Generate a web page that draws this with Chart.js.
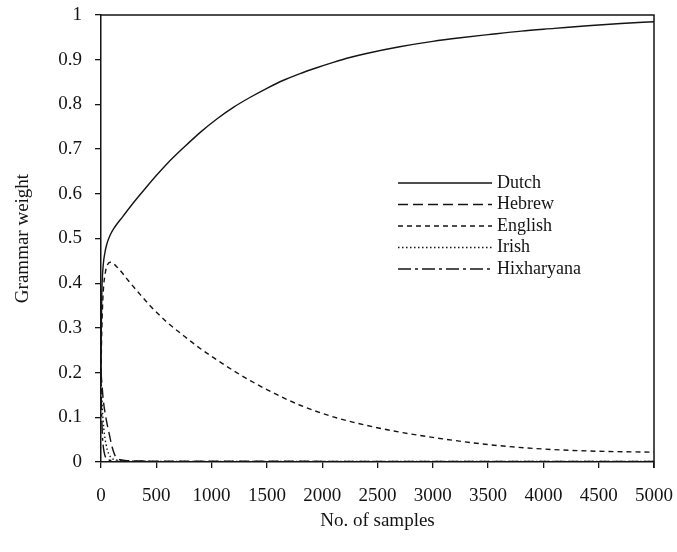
<!DOCTYPE html>
<html>
<head>
<meta charset="utf-8">
<script src="https://cdn.jsdelivr.net/npm/chart.js@4.4.1/dist/chart.umd.min.js"></script>
<style>
  html, body { margin: 0; padding: 0; background: #fff; }
  #wrap { width: 677px; height: 552px; }
</style>
</head>
<body>
<div id="wrap"><canvas id="c" width="677" height="552"></canvas></div>
<script>
// ---- data ----
const seriesNames = ["Dutch", "Hebrew", "English", "Irish", "Hixharyana"];

const dutchX = [0, 3, 6, 10, 21, 35, 51, 80, 112, 200, 293, 400, 500, 600, 750, 900, 1050, 1200, 1350, 1500, 1650, 1800, 1950, 2100, 2250, 2400, 2700, 3000, 3250, 3500, 3800, 4100, 4400, 4700, 5000];
const dutchY = [0.2, 0.3, 0.36, 0.40, 0.443, 0.468, 0.486, 0.506, 0.521, 0.55, 0.58, 0.612, 0.641, 0.668, 0.704, 0.738, 0.768, 0.794, 0.816, 0.836, 0.854, 0.869, 0.882, 0.894, 0.905, 0.914, 0.929, 0.941, 0.949, 0.956, 0.964, 0.970, 0.976, 0.981, 0.985];

const hebrewX = [0, 10, 20, 45, 75, 100, 130, 175, 250, 500, 1000, 2000, 3000, 5000];
const hebrewY = [0.2, 0.17, 0.14, 0.098, 0.062, 0.034, 0.013, 0.005, 0.003, 0.002, 0.002, 0.0015, 0.001, 0.001];

const englishX = [0, 5, 10, 20, 40, 60, 82, 150, 250, 353, 450, 595, 750, 897, 1050, 1200, 1350, 1500, 1800, 2100, 2400, 2700, 3000, 3500, 4000, 4500, 5000];
const englishY = [0.2, 0.27, 0.32, 0.38, 0.425, 0.442, 0.447, 0.435, 0.405, 0.375, 0.348, 0.313, 0.282, 0.254, 0.228, 0.204, 0.182, 0.162, 0.127, 0.101, 0.082, 0.067, 0.055, 0.039, 0.029, 0.024, 0.022];

const irishX = [0, 5, 12, 25, 45, 70, 100, 150, 300, 1000, 5000];
const irishY = [0.2, 0.16, 0.12, 0.075, 0.04, 0.018, 0.008, 0.004, 0.002, 0.001, 0.001];

const hixX = [0, 3, 8, 15, 30, 60, 100, 200, 5000];
const hixY = [0.2, 0.14, 0.09, 0.05, 0.02, 0.006, 0.003, 0.001, 0.0005];

const xTicks = [0, 500, 1000, 1500, 2000, 2500, 3000, 3500, 4000, 4500, 5000];
const yTicks = [0, 0.1, 0.2, 0.3, 0.4, 0.5, 0.6, 0.7, 0.8, 0.9, 1];

// ---- helpers ----
function pts(xs, ys) { return xs.map((x, i) => ({ x: x, y: ys[i] })); }
const INK = '#141414';
const FONT = "'Liberation Serif', 'DejaVu Serif', serif";
const dashes = [[], [10, 5], [5, 4], [1.5, 2.5], [13, 4, 3, 4]];
const seriesData = [pts(dutchX, dutchY), pts(hebrewX, hebrewY), pts(englishX, englishY), pts(irishX, irishY), pts(hixX, hixY)];

const datasets = seriesNames.map((name, i) => ({
  label: name,
  data: seriesData[i],
  borderColor: INK,
  backgroundColor: INK,
  borderWidth: 1.4,
  borderDash: dashes[i],
  pointRadius: 0,
  fill: false,
  cubicInterpolationMode: 'monotone'
}));

// frame + legend drawn in the chart area
const framePlugin = {
  id: 'frame',
  afterDatasetsDraw(chart) {
    const { ctx, chartArea: a } = chart;
    ctx.save();
    ctx.strokeStyle = INK;
    ctx.lineWidth = 1.5;
    ctx.beginPath();
    ctx.moveTo(a.left, a.top);
    ctx.lineTo(a.right, a.top);
    ctx.lineTo(a.right, a.bottom + 6);
    ctx.stroke();
    // legend
    const x0 = 398, x1 = 492, tx = 497, y0 = 183, dy = 21.5;
    ctx.font = "18px " + FONT;
    ctx.fillStyle = INK;
    ctx.textBaseline = 'middle';
    chart.data.datasets.forEach((ds, i) => {
      const y = y0 + i * dy;
      ctx.lineWidth = 1.4;
      ctx.setLineDash(ds.borderDash || []);
      ctx.beginPath();
      ctx.moveTo(x0, y);
      ctx.lineTo(x1, y);
      ctx.stroke();
      ctx.setLineDash([]);
      ctx.fillText(ds.label, tx, y);
    });
    ctx.restore();
  }
};

new Chart(document.getElementById('c'), {
  type: 'line',
  data: { datasets: datasets },
  plugins: [framePlugin],
  options: {
    responsive: false,
    animation: false,
    devicePixelRatio: 1,
    layout: { padding: { left: 0, top: 15, right: 23, bottom: 0 } },
    plugins: { legend: { display: false }, tooltip: { enabled: false } },
    scales: {
      x: {
        type: 'linear',
        min: 0, max: 5000,
        afterBuildTicks(s) { s.ticks = xTicks.map(v => ({ value: v })); },
        afterFit(s) { s.height = 90; s.paddingLeft = 0; s.paddingRight = 0; },
        ticks: { color: INK, font: { family: FONT, size: 19 }, padding: 17, maxRotation: 0, autoSkip: false,
          callback: v => String(v) },
        grid: { drawOnChartArea: false, drawTicks: true, tickLength: 6, color: INK, lineWidth: 1.3 },
        border: { display: true, color: INK, width: 1.5 },
        title: { display: true, text: 'No. of samples', color: INK, font: { family: FONT, size: 19 }, padding: { top: 0, bottom: 20 } }
      },
      y: {
        type: 'linear',
        min: 0, max: 1,
        afterBuildTicks(s) { s.ticks = yTicks.map(v => ({ value: v })); },
        afterFit(s) { s.width = 101; s.paddingTop = 0; s.paddingBottom = 0; },
        ticks: { color: INK, font: { family: FONT, size: 19 }, padding: 13, autoSkip: false,
          callback: v => String(Math.round(v * 10) / 10) },
        grid: { drawOnChartArea: false, drawTicks: true, tickLength: 6, color: INK, lineWidth: 1.3 },
        border: { display: true, color: INK, width: 1.5 },
        title: { display: true, text: 'Grammar weight', color: INK, font: { family: FONT, size: 19 }, padding: { top: 12, bottom: 0 } }
      }
    }
  }
});
</script>
</body>
</html>
